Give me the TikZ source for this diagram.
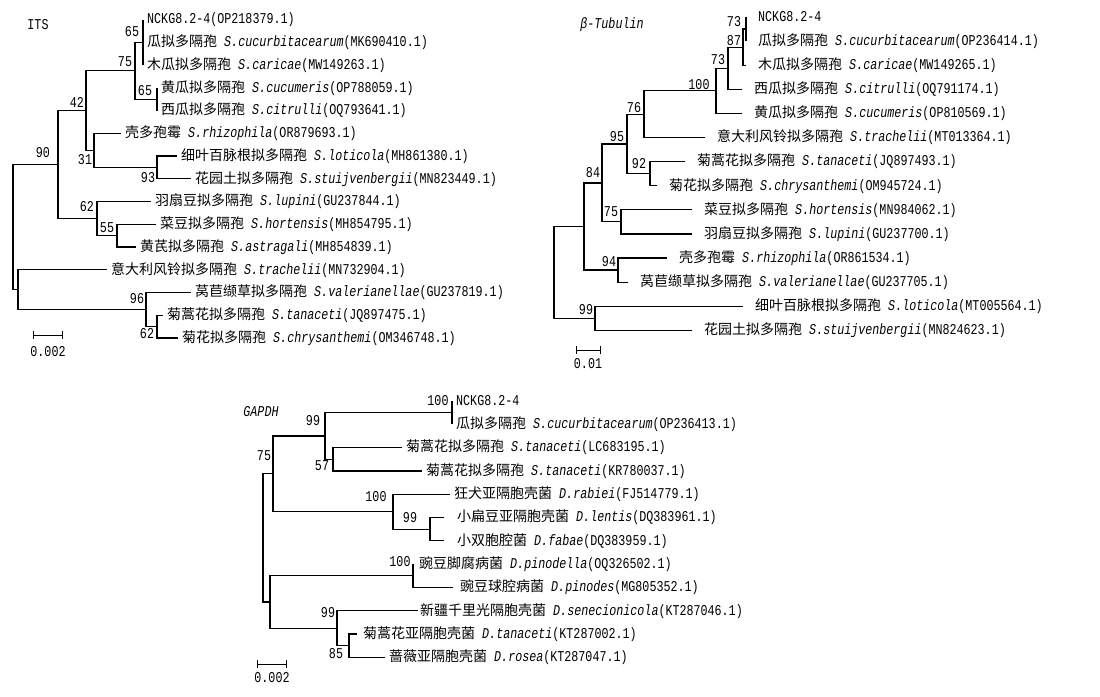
\documentclass[tikz,border=0pt]{standalone}
\usepackage{fontspec}
\setmainfont{Liberation Mono}[FakeStretch=0.78]
\newfontfamily\cjk{Noto Sans CJK SC}
\newcommand{\treefont}{\fontsize{15}{16}\selectfont}
\newcommand{\taxon}[3]{{\fontsize{14}{16}\cjk #1} \textit{#2}(#3)}
\tikzset{
  branch/.style={line width=1.2pt},
  leaf/.style={anchor=west, inner ysep=0pt, inner xsep=#1, font=\treefont},
  leaf/.default=4pt,
  bs/.style={inner sep=0pt, font=\treefont},
  title/.style={inner sep=0pt, font=\treefont},
  scalebar/.style={line width=1pt, |-|},
}
\begin{document}
\begin{tikzpicture}[x=1pt, y=-1pt]
\useasboundingbox (0,0) rectangle (1100,696);

% ITS
\node[title] (its) at (38,25) {ITS};
\coordinate (aO) at (13,227.1);
\coordinate (aA) at (58,164.5);
\coordinate (aC) at (86,110.5);
\coordinate (aD) at (135,70.7);
\coordinate (aE) at (143,42.25);
\coordinate (aF) at (157,99.1);
\coordinate (aG) at (94,150.3);
\coordinate (aH) at (157,167.4);
\coordinate (aI) at (97,218.6);
\coordinate (aJ) at (117,235.6);
\coordinate (aB) at (18,289.7);
\coordinate (aK) at (146,309.6);
\coordinate (aL) at (157,326.6);
\node[leaf] (a1) at (143,19.5) {NCKG8.2-4(OP218379.1)};
\node[leaf] (a2) at (143,42.25) {\taxon{瓜拟多隔孢}{S.cucurbitacearum}{MK690410.1}};
\node[leaf] (a3) at (143,65) {\taxon{木瓜拟多隔孢}{S.caricae}{MW149263.1}};
\node[leaf] (a4) at (157,87.75) {\taxon{黄瓜拟多隔孢}{S.cucumeris}{OP788059.1}};
\node[leaf] (a5) at (157,110.5) {\taxon{西瓜拟多隔孢}{S.citrulli}{OQ793641.1}};
\node[leaf] (a6) at (121,133.25) {\taxon{壳多孢霉}{S.rhizophila}{OR879693.1}};
\node[leaf] (a7) at (177,156) {\taxon{细叶百脉根拟多隔孢}{S.loticola}{MH861380.1}};
\node[leaf] (a8) at (191,178.75) {\taxon{花园土拟多隔孢}{S.stuijvenbergii}{MN823449.1}};
\node[leaf] (a9) at (151,201.5) {\taxon{羽扇豆拟多隔孢}{S.lupini}{GU237844.1}};
\node[leaf] (a10) at (156,224.25) {\taxon{菜豆拟多隔孢}{S.hortensis}{MH854795.1}};
\node[leaf] (a11) at (136,247) {\taxon{黄芪拟多隔孢}{S.astragali}{MH854839.1}};
\node[leaf] (a12) at (107,269.75) {\taxon{意大利风铃拟多隔孢}{S.trachelii}{MN732904.1}};
\node[leaf] (a13) at (191,292.5) {\taxon{莴苣缬草拟多隔孢}{S.valerianellae}{GU237819.1}};
\node[leaf] (a14) at (163,315.25) {\taxon{菊蒿花拟多隔孢}{S.tanaceti}{JQ897475.1}};
\node[leaf] (a15) at (178,338) {\taxon{菊花拟多隔孢}{S.chrysanthemi}{OM346748.1}};
\foreach \p/\c in {aO/aA, aO/aB, aA/aC, aA/aI, aC/aD, aC/aG, aD/aE, aD/aF,
    aE/a1, aE/a2, aE/a3, aF/a4, aF/a5, aG/a6, aG/aH, aH/a7, aH/a8,
    aI/a9, aI/aJ, aJ/a10, aJ/a11, aB/a12, aB/aK, aK/a13, aK/aL, aL/a14, aL/a15}
  \draw[branch] (\p) |- (\c);
\node[bs] at (132,32) {65};
\node[bs] at (125,62) {75};
\node[bs] at (145,91) {65};
\node[bs] at (77,102) {42};
\node[bs] at (43,153) {90};
\node[bs] at (85,160) {31};
\node[bs] at (148,178) {93};
\node[bs] at (87,207) {62};
\node[bs] at (107,228) {55};
\node[bs] at (137,299) {96};
\node[bs] at (147,334) {62};
\coordinate (as1) at (33,335);
\coordinate (as2) at (63,335);
\draw[scalebar] (as1) -- (as2);
\node[bs] (asl) at (48,352) {0.002};

% beta-Tubulin
\node[title] (tub) at (612,25) {\textit{β-Tubulin}};
\coordinate (bO) at (554,272.4);
\coordinate (bZ) at (584,226.5);
\coordinate (bN) at (595,318.25);
\coordinate (bX) at (602,182.9);
\coordinate (bY) at (618,270.05);
\coordinate (bU) at (627,143.9);
\coordinate (bW) at (621,221.85);
\coordinate (bT) at (644,114.2);
\coordinate (bV) at (650,173.65);
\coordinate (bS) at (716,90.8);
\coordinate (bR) at (728,68.2);
\coordinate (bP) at (743,47.1);
\coordinate (bQ) at (746,29.05);
\node[leaf=12pt] (b1) at (746,17) {NCKG8.2-4};
\node[leaf=12pt] (b2) at (746,41.1) {\taxon{瓜拟多隔孢}{S.cucurbitacearum}{OP236414.1}};
\node[leaf=12pt] (b3) at (746,65.2) {\taxon{木瓜拟多隔孢}{S.caricae}{MW149265.1}};
\node[leaf=12pt] (b4) at (742,89.3) {\taxon{西瓜拟多隔孢}{S.citrulli}{OQ791174.1}};
\node[leaf=12pt] (b5) at (742,113.4) {\taxon{黄瓜拟多隔孢}{S.cucumeris}{OP810569.1}};
\node[leaf=12pt] (b6) at (705,137.5) {\taxon{意大利风铃拟多隔孢}{S.trachelii}{MT013364.1}};
\node[leaf=12pt] (b7) at (685,161.6) {\taxon{菊蒿花拟多隔孢}{S.tanaceti}{JQ897493.1}};
\node[leaf=12pt] (b8) at (657,185.7) {\taxon{菊花拟多隔孢}{S.chrysanthemi}{OM945724.1}};
\node[leaf=12pt] (b9) at (692,209.8) {\taxon{菜豆拟多隔孢}{S.hortensis}{MN984062.1}};
\node[leaf=12pt] (b10) at (692,233.9) {\taxon{羽扇豆拟多隔孢}{S.lupini}{GU237700.1}};
\node[leaf=12pt] (b11) at (667,258) {\taxon{壳多孢霉}{S.rhizophila}{OR861534.1}};
\node[leaf=12pt] (b12) at (628,282.1) {\taxon{莴苣缬草拟多隔孢}{S.valerianellae}{GU237705.1}};
\node[leaf=12pt] (b13) at (743,306.2) {\taxon{细叶百脉根拟多隔孢}{S.loticola}{MT005564.1}};
\node[leaf=12pt] (b14) at (692,330.3) {\taxon{花园土拟多隔孢}{S.stuijvenbergii}{MN824623.1}};
\foreach \p/\c in {bO/bZ, bO/bN, bZ/bX, bZ/bY, bX/bU, bX/bW, bU/bT, bU/bV,
    bT/bS, bT/b6, bS/bR, bS/b5, bR/bP, bR/b4, bP/bQ, bP/b3, bQ/b1, bQ/b2,
    bV/b7, bV/b8, bW/b9, bW/b10, bY/b11, bY/b12, bN/b13, bN/b14}
  \draw[branch] (\p) |- (\c);
\node[bs] at (734,22) {73};
\node[bs] at (734,41) {87};
\node[bs] at (718,60) {73};
\node[bs] at (699,85) {100};
\node[bs] at (634,108) {76};
\node[bs] at (617,137) {95};
\node[bs] at (639,164) {92};
\node[bs] at (593,173) {84};
\node[bs] at (611,212) {75};
\node[bs] at (609,262) {94};
\node[bs] at (586,310) {99};
\coordinate (bs1) at (576,350);
\coordinate (bs2) at (601,350);
\draw[scalebar] (bs1) -- (bs2);
\node[bs] (bsl) at (588,364) {0.01};

% GAPDH
\node[title] (gap) at (261,412) {\textit{GAPDH}};
\coordinate (cO) at (263,537.9);
\coordinate (cE) at (273,473.8);
\coordinate (cC) at (325,435.95);
\coordinate (cB) at (452,412.65);
\coordinate (cD) at (333,459.25);
\coordinate (cF) at (393,511.7);
\coordinate (cG) at (430,529.15);
\coordinate (cH) at (270,601.95);
\coordinate (cI) at (413,575.75);
\coordinate (cJ) at (337,628.2);
\coordinate (cK) at (349,645.65);
\node[leaf] (c1) at (452,401) {NCKG8.2-4};
\node[leaf] (c2) at (452,424.3) {\taxon{瓜拟多隔孢}{S.cucurbitacearum}{OP236413.1}};
\node[leaf] (c3) at (402,447.6) {\taxon{菊蒿花拟多隔孢}{S.tanaceti}{LC683195.1}};
\node[leaf] (c4) at (422,470.9) {\taxon{菊蒿花拟多隔孢}{S.tanaceti}{KR780037.1}};
\node[leaf] (c5) at (450,494.2) {\taxon{狂犬亚隔胞壳菌}{D.rabiei}{FJ514779.1}};
\node[leaf=13pt] (c6) at (444,517.5) {\taxon{小扁豆亚隔胞壳菌}{D.lentis}{DQ383961.1}};
\node[leaf=13pt] (c7) at (444,540.8) {\taxon{小双胞腔菌}{D.fabae}{DQ383959.1}};
\node[leaf=6pt] (c8) at (413,564.1) {\taxon{豌豆脚腐病菌}{D.pinodella}{OQ326502.1}};
\node[leaf=7pt] (c9) at (453,587.4) {\taxon{豌豆球腔病菌}{D.pinodes}{MG805352.1}};
\node[leaf=2pt] (c10) at (418,610.7) {\taxon{新疆千里光隔胞壳菌}{D.senecionicola}{KT287046.1}};
\node[leaf=6pt] (c11) at (357,634) {\taxon{菊蒿花亚隔胞壳菌}{D.tanaceti}{KT287002.1}};
\node[leaf] (c12) at (385,657.3) {\taxon{蔷薇亚隔胞壳菌}{D.rosea}{KT287047.1}};
\foreach \p/\c in {cO/cE, cO/cH, cE/cC, cE/cF, cC/cB, cC/cD, cB/c1, cB/c2,
    cD/c3, cD/c4, cF/c5, cF/cG, cG/c6, cG/c7, cH/cI, cH/cJ, cI/c8, cI/c9,
    cJ/c10, cJ/cK, cK/c11, cK/c12}
  \draw[branch] (\p) |- (\c);
\node[bs] at (438,401) {100};
\node[bs] at (313,421) {99};
\node[bs] at (264,456) {75};
\node[bs] at (322,466) {57};
\node[bs] at (376,497) {100};
\node[bs] at (410,518) {99};
\node[bs] at (400,562) {100};
\node[bs] at (328,613) {99};
\node[bs] at (336,654) {85};
\coordinate (cs1) at (257,664);
\coordinate (cs2) at (287,664);
\draw[scalebar] (cs1) -- (cs2);
\node[bs] (csl) at (272,678) {0.002};
\end{tikzpicture}
\end{document}
